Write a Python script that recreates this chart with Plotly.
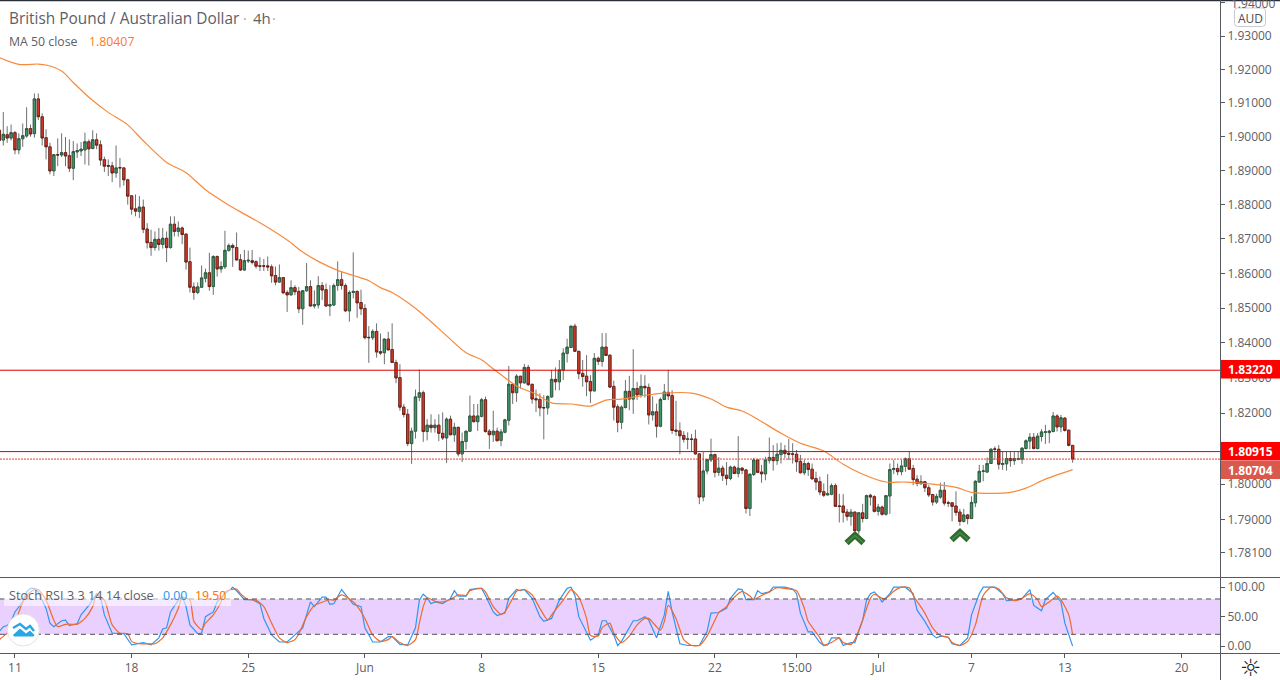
import math
import plotly.graph_objects as go

open_ = [1.9019,1.8990,1.9006,1.8996,1.9012,1.8961,1.8994,1.9002,1.9024,1.9009,
1.9112,1.9059,1.8997,1.8970,1.8899,1.8947,1.8946,1.8953,1.8944,1.8907,
1.8955,1.8958,1.8961,1.8985,1.8965,1.8991,1.8976,1.8932,1.8915,1.8914,
1.8893,1.8909,1.8908,1.8873,1.8826,1.8788,1.8780,1.8793,1.8729,1.8690,
1.8675,1.8699,1.8684,1.8702,1.8675,1.8743,1.8722,1.8732,1.8714,1.8634,
1.8561,1.8545,1.8560,1.8586,1.8602,1.8562,1.8649,1.8613,1.8619,1.8667,
1.8681,1.8675,1.8640,1.8610,1.8636,1.8637,1.8634,1.8622,1.8622,1.8622,
1.8619,1.8594,1.8575,1.8588,1.8545,1.8538,1.8559,1.8548,1.8498,1.8550,
1.8562,1.8506,1.8509,1.8565,1.8553,1.8506,1.8509,1.8565,1.8582,1.8565,
1.8492,1.8545,1.8548,1.8516,1.8499,1.8416,1.8415,1.8433,1.8375,1.8372,
1.8411,1.8381,1.8344,1.8301,1.8217,1.8197,1.8114,1.8149,1.8245,1.8258,
1.8148,1.8166,1.8159,1.8166,1.8143,1.8130,1.8183,1.8139,1.8160,1.8085,
1.8120,1.8149,1.8192,1.8176,1.8191,1.8238,1.8149,1.8139,1.8149,1.8123,
1.8146,1.8180,1.8282,1.8258,1.8305,1.8286,1.8330,1.8282,1.8241,1.8239,
1.8216,1.8215,1.8246,1.8296,1.8289,1.8322,1.8370,1.8387,1.8448,1.8376,
1.8313,1.8305,1.8290,1.8263,1.8356,1.8347,1.8388,1.8365,1.8276,1.8218,
1.8174,1.8216,1.8262,1.8240,1.8270,1.8252,1.8276,1.8273,1.8195,1.8204,
1.8163,1.8239,1.8259,1.8250,1.8152,1.8150,1.8137,1.8126,1.8127,1.8127,
1.8085,1.7964,1.8037,1.8068,1.8083,1.8033,1.8045,1.8025,1.8016,1.8048,
1.8030,1.8045,1.8040,1.7932,1.8027,1.8068,1.8034,1.8029,1.8067,1.8075,
1.8066,1.8083,1.8095,1.8087,1.8085,1.8084,1.8064,1.8032,1.8058,1.8042,
1.8016,1.8007,1.7979,1.7970,1.7972,1.7996,1.7939,1.7939,1.7922,1.7910,
1.7922,1.7870,1.7920,1.7904,1.7969,1.7965,1.7924,1.7936,1.7916,1.7967,
1.8041,1.8044,1.8035,1.8050,1.8071,1.8044,1.8014,1.8001,1.8007,1.7990,
1.7971,1.7950,1.7964,1.7983,1.7948,1.7948,1.7939,1.7922,1.7896,1.7914,
1.7904,1.7948,1.8006,1.8036,1.8034,1.8058,1.8099,1.8098,1.8055,1.8057,
1.8072,1.8066,1.8069,1.8070,1.8100,1.8121,1.8132,1.8100,1.8134,1.8146,
1.8145,1.8148,1.8192,1.8161,1.8186,1.8152,1.8109]
high = [1.9026,1.9073,1.9031,1.9036,1.9017,1.9010,1.9039,1.9087,1.9036,1.9128,
1.9128,1.9069,1.9022,1.8982,1.8948,1.8995,1.9010,1.8999,1.8992,1.8987,
1.8980,1.8984,1.9012,1.8992,1.9019,1.9010,1.8989,1.8941,1.8933,1.8926,
1.8974,1.8937,1.8908,1.8876,1.8826,1.8830,1.8825,1.8815,1.8746,1.8727,
1.8722,1.8732,1.8732,1.8722,1.8766,1.8766,1.8751,1.8736,1.8717,1.8675,
1.8574,1.8574,1.8623,1.8614,1.8660,1.8653,1.8652,1.8635,1.8724,1.8687,
1.8687,1.8719,1.8656,1.8668,1.8666,1.8668,1.8638,1.8647,1.8642,1.8649,
1.8626,1.8620,1.8626,1.8588,1.8551,1.8580,1.8566,1.8561,1.8551,1.8630,
1.8580,1.8551,1.8592,1.8575,1.8571,1.8566,1.8571,1.8635,1.8604,1.8571,
1.8551,1.8661,1.8551,1.8553,1.8511,1.8448,1.8439,1.8456,1.8427,1.8413,
1.8432,1.8456,1.8352,1.8339,1.8226,1.8212,1.8159,1.8267,1.8324,1.8264,
1.8183,1.8197,1.8183,1.8197,1.8202,1.8188,1.8193,1.8173,1.8161,1.8145,
1.8150,1.8250,1.8226,1.8226,1.8243,1.8247,1.8155,1.8207,1.8159,1.8155,
1.8184,1.8334,1.8283,1.8311,1.8305,1.8340,1.8337,1.8283,1.8267,1.8256,
1.8251,1.8251,1.8323,1.8330,1.8351,1.8385,1.8412,1.8449,1.8455,1.8376,
1.8351,1.8365,1.8308,1.8371,1.8361,1.8428,1.8428,1.8366,1.8292,1.8225,
1.8222,1.8294,1.8306,1.8382,1.8289,1.8310,1.8308,1.8284,1.8248,1.8227,
1.8244,1.8283,1.8323,1.8265,1.8235,1.8174,1.8149,1.8146,1.8141,1.8153,
1.8086,1.8090,1.8071,1.8128,1.8086,1.8076,1.8052,1.8062,1.8052,1.8052,
1.8135,1.8047,1.8042,1.8030,1.8074,1.8071,1.8054,1.8077,1.8131,1.8110,
1.8115,1.8117,1.8110,1.8127,1.8115,1.8096,1.8082,1.8068,1.8063,1.8058,
1.8035,1.8021,1.8002,1.8028,1.8002,1.8002,1.7973,1.7972,1.7931,1.7931,
1.7923,1.7921,1.7945,1.7971,1.7973,1.7969,1.7945,1.7940,1.7969,1.8058,
1.8068,1.8058,1.8068,1.8075,1.8091,1.8054,1.8025,1.8025,1.8009,1.7997,
1.7973,1.7973,1.8004,1.8006,1.7954,1.7950,1.7980,1.7931,1.7931,1.7917,
1.7966,1.8011,1.8054,1.8054,1.8075,1.8101,1.8106,1.8110,1.8091,1.8091,
1.8091,1.8090,1.8091,1.8104,1.8126,1.8144,1.8144,1.8144,1.8155,1.8167,
1.8153,1.8203,1.8197,1.8195,1.8189,1.8153,1.8110]
low = [1.8982,1.8974,1.8982,1.8989,1.8948,1.8948,1.8970,1.8997,1.9000,1.8997,
1.9049,1.8974,1.8933,1.8889,1.8884,1.8913,1.8940,1.8913,1.8896,1.8872,
1.8937,1.8943,1.8918,1.8915,1.8963,1.8963,1.8915,1.8896,1.8884,1.8866,
1.8879,1.8850,1.8856,1.8800,1.8771,1.8766,1.8761,1.8717,1.8672,1.8651,
1.8666,1.8666,1.8672,1.8633,1.8672,1.8707,1.8707,1.8685,1.8611,1.8545,
1.8524,1.8540,1.8560,1.8574,1.8550,1.8538,1.8591,1.8602,1.8613,1.8663,
1.8619,1.8638,1.8607,1.8607,1.8630,1.8626,1.8614,1.8607,1.8607,1.8607,
1.8573,1.8566,1.8573,1.8540,1.8489,1.8537,1.8537,1.8486,1.8452,1.8547,
1.8504,1.8499,1.8499,1.8523,1.8504,1.8477,1.8506,1.8550,1.8553,1.8489,
1.8461,1.8528,1.8472,1.8480,1.8410,1.8343,1.8408,1.8358,1.8365,1.8339,
1.8379,1.8343,1.8285,1.8207,1.8188,1.8107,1.8057,1.8128,1.8234,1.8119,
1.8123,1.8145,1.8145,1.8121,1.8124,1.8059,1.8137,1.8119,1.8078,1.8062,
1.8097,1.8147,1.8173,1.8150,1.8188,1.8145,1.8099,1.8119,1.8121,1.8107,
1.8143,1.8165,1.8226,1.8232,1.8270,1.8284,1.8277,1.8227,1.8203,1.8191,
1.8126,1.8196,1.8244,1.8265,1.8265,1.8294,1.8344,1.8385,1.8375,1.8296,
1.8275,1.8248,1.8229,1.8263,1.8337,1.8332,1.8363,1.8272,1.8179,1.8146,
1.8155,1.8213,1.8208,1.8198,1.8237,1.8244,1.8244,1.8168,1.8179,1.8131,
1.8160,1.8237,1.8237,1.8141,1.8136,1.8084,1.8117,1.8098,1.8090,1.8083,
1.7944,1.7952,1.8028,1.8062,1.8019,1.8023,1.8009,1.7997,1.8011,1.8028,
1.8019,1.8028,1.7918,1.7911,1.8023,1.8031,1.8004,1.8011,1.8058,1.8038,
1.8054,1.8058,1.8073,1.8068,1.8058,1.8035,1.8030,1.8025,1.8023,1.8013,
1.7983,1.7969,1.7964,1.7969,1.7969,1.7937,1.7893,1.7893,1.7898,1.7884,
1.7869,1.7860,1.7893,1.7903,1.7940,1.7921,1.7912,1.7912,1.7912,1.7917,
1.8028,1.8025,1.8025,1.8035,1.8041,1.7997,1.7994,1.8000,1.7978,1.7964,
1.7940,1.7945,1.7959,1.7940,1.7936,1.7896,1.7912,1.7884,1.7893,1.7888,
1.7903,1.7936,1.8004,1.8008,1.8032,1.8057,1.8068,1.8041,1.8040,1.8038,
1.8049,1.8054,1.8068,1.8057,1.8098,1.8098,1.8098,1.8098,1.8120,1.8113,
1.8115,1.8146,1.8148,1.8146,1.8148,1.8106,1.8060]
close = [1.8989,1.9007,1.8996,1.9012,1.8961,1.8994,1.9003,1.9024,1.9008,1.9112,
1.9059,1.8996,1.8970,1.8899,1.8947,1.8946,1.8953,1.8943,1.8907,1.8956,
1.8959,1.8963,1.8985,1.8964,1.8991,1.8975,1.8931,1.8913,1.8913,1.8893,
1.8908,1.8908,1.8873,1.8825,1.8787,1.8781,1.8793,1.8728,1.8689,1.8675,
1.8699,1.8684,1.8702,1.8675,1.8743,1.8722,1.8732,1.8713,1.8633,1.8560,
1.8545,1.8561,1.8587,1.8602,1.8562,1.8649,1.8613,1.8620,1.8667,1.8681,
1.8675,1.8639,1.8610,1.8637,1.8638,1.8632,1.8621,1.8621,1.8621,1.8619,
1.8593,1.8575,1.8588,1.8544,1.8538,1.8559,1.8547,1.8498,1.8550,1.8562,
1.8506,1.8510,1.8565,1.8552,1.8506,1.8510,1.8565,1.8582,1.8565,1.8492,
1.8545,1.8548,1.8515,1.8498,1.8415,1.8415,1.8433,1.8374,1.8371,1.8411,
1.8380,1.8344,1.8300,1.8217,1.8196,1.8114,1.8149,1.8246,1.8258,1.8148,
1.8166,1.8159,1.8166,1.8143,1.8130,1.8183,1.8139,1.8160,1.8085,1.8120,
1.8149,1.8192,1.8176,1.8192,1.8238,1.8148,1.8139,1.8149,1.8122,1.8147,
1.8181,1.8282,1.8258,1.8305,1.8286,1.8330,1.8281,1.8240,1.8238,1.8215,
1.8215,1.8247,1.8296,1.8289,1.8323,1.8371,1.8388,1.8448,1.8376,1.8312,
1.8304,1.8289,1.8263,1.8356,1.8347,1.8388,1.8364,1.8274,1.8217,1.8174,
1.8217,1.8262,1.8240,1.8270,1.8252,1.8276,1.8272,1.8195,1.8204,1.8163,
1.8239,1.8260,1.8249,1.8151,1.8149,1.8136,1.8126,1.8127,1.8126,1.8085,
1.7964,1.8037,1.8069,1.8083,1.8033,1.8045,1.8024,1.8016,1.8048,1.8030,
1.8045,1.8039,1.7932,1.8028,1.8068,1.8033,1.8029,1.8068,1.8075,1.8066,
1.8084,1.8095,1.8086,1.8084,1.8084,1.8063,1.8032,1.8058,1.8041,1.8015,
1.8006,1.7978,1.7969,1.7973,1.7996,1.7938,1.7938,1.7921,1.7910,1.7922,
1.7870,1.7920,1.7904,1.7968,1.7964,1.7924,1.7936,1.7916,1.7968,1.8041,
1.8044,1.8035,1.8051,1.8071,1.8042,1.8013,1.8002,1.8007,1.7990,1.7970,
1.7950,1.7966,1.7983,1.7947,1.7947,1.7938,1.7921,1.7896,1.7914,1.7904,
1.7949,1.8008,1.8036,1.8037,1.8058,1.8098,1.8098,1.8056,1.8058,1.8072,
1.8066,1.8072,1.8072,1.8101,1.8122,1.8132,1.8100,1.8135,1.8147,1.8147,
1.8149,1.8192,1.8161,1.8187,1.8151,1.8109,1.80704]

ma_idx = [0,5,10,12,16,19,23,28,33,37,43,48,53,58,62,67,74,78,82,87,91,95,98,101,105,108,113,120,124,127,129,133,138,142,147,152,156,160,165,171,178,183,187,191,195,201,206,212,217,222,228,233,240,246,250,255,260,264,269,276]
ma_val = [1.9235,1.9215,1.9216,1.9213,1.9195,1.9161,1.9117,1.9072,1.9035,1.8988,1.8924,1.8894,1.8844,1.8806,1.8779,1.8747,1.8697,1.8662,1.8635,1.8609,1.8594,1.8579,1.8559,1.8545,1.8516,1.8490,1.8441,1.8372,1.8352,1.8326,1.8309,1.8277,1.8254,1.8229,1.8226,1.8220,1.8237,1.8240,1.8249,1.8257,1.8257,1.8240,1.8217,1.8206,1.8183,1.8143,1.8115,1.8093,1.8056,1.8028,1.8006,1.8006,1.8000,1.7991,1.7977,1.7974,1.7977,1.7989,1.8014,1.80407]

k_idx = [0,1,2,3,4,6,7,8,9,10,12,13,14,16,17,18,20,21,23,25,26,27,29,31,32,34,36,37,39,41,42,43,44,46,47,48,49,51,52,53,55,56,58,60,61,63,65,67,68,70,72,74,76,78,80,81,83,84,85,86,88,90,91,93,94,96,98,100,101,103,105,107,108,
109,110,111,112,114,116,117,118,120,121,123,124,125,127,128,130,131,133,134,135,137,139,140,142,144,146,147,148,149,151,152,154,155,156,158,159,160,163,164,166,167,169,171,172,173,175,177,180,182,183,185,187,188,190,191,192,194,195,196,198,199,202,204,205,206,208,209,211,212,213,214,216,
217,219,220,222,223,224,225,226,227,229,230,233,235,236,238,240,241,242,244,245,247,249,250,252,253,256,258,259,261,263,265,266,268,269,271,273,274,276]
k_val = [25,33,35,42,58,75,92,98,98,92,64,39,33,43,44,35,38,53,69,89,83,53,22,22,21,2,5,6,2,14,29,31,58,78,85,67,36,21,22,50,58,75,89,100,94,79,79,72,47,19,7,7,19,31,75,67,83,83,71,72,96,78,71,67,31,7,7,16,16,3,2,31,78,
88,82,72,75,72,81,94,85,85,96,98,98,86,58,52,56,81,96,94,96,81,50,42,47,78,98,100,86,50,22,10,19,43,43,19,1,8,43,43,50,44,14,53,93,58,4,1,1,25,56,57,64,81,97,96,79,79,94,89,92,100,100,97,89,56,24,24,6,1,2,14,14,
1,6,6,44,78,89,92,85,75,89,100,100,89,61,42,19,14,17,15,4,1,14,53,89,100,100,89,77,78,81,96,69,60,79,91,75,39,0]
d_idx = [0,2,4,5,7,9,10,12,14,15,17,19,20,22,24,25,27,29,31,33,34,36,38,40,42,44,46,47,49,50,52,53,55,57,58,61,62,64,66,68,70,72,74,76,77,79,81,82,85,86,88,91,92,94,96,98,100,101,103,105,107,108,
109,110,112,114,116,118,120,121,124,125,127,129,130,132,133,135,137,139,141,142,145,147,149,151,152,154,155,157,158,160,162,164,166,167,170,171,172,174,176,178,180,182,184,185,187,189,191,193,194,196,198,200,202,205,207,208,211,212,214,216,
217,219,220,222,224,225,227,228,230,232,234,235,238,240,242,244,245,247,249,251,253,255,257,259,261,263,265,267,268,270,272,273,275,276]
d_val = [11,22,36,58,86,96,96,78,44,33,37,37,37,47,67,87,78,36,22,21,8,4,4,4,14,36,64,83,78,42,28,39,53,75,92,97,89,79,78,67,39,14,6,11,21,50,69,72,79,78,87,75,68,47,19,8,11,16,6,1,11,39,
67,82,76,75,79,87,86,94,98,92,67,54,58,81,93,96,87,64,44,53,78,96,83,47,18,17,31,39,22,6,17,36,47,47,27,42,69,47,11,1,1,17,44,57,67,83,93,85,79,86,92,99,98,94,64,42,14,2,6,14,
6,3,11,44,81,88,81,81,93,100,99,86,56,31,18,15,6,1,8,36,86,100,97,82,77,81,89,79,67,75,85,79,53,19.5]

level_prices = [1.83220, 1.80915, 1.80704]
y_tick_vals = [1.94,1.93,1.92,1.91,1.90,1.89,1.88,1.87,1.86,1.85,1.84,1.83,1.82,1.80,1.79,1.781]
y_tick_text = ["1.94000","1.93000","1.92000","1.91000","1.90000","1.89000","1.88000","1.87000","1.86000","1.85000","1.84000","1.83000","1.82000","1.80000","1.79000","1.78100"]
x_tick_vals = [4,34,64,94,124,154,184,205,226,250,274,304]
x_tick_text = ["11","18","25","Jun","8","15","22","15:00","Jul","7","13","20"]

assert len(open_) == len(high) == len(low) == len(close), (len(open_), len(high), len(low), len(close))
assert len(k_idx) == len(k_val), (len(k_idx), len(k_val))
assert len(d_idx) == len(d_val), (len(d_idx), len(d_val))

FONT = "Open Sans"
W, H, PW, PH = 1280, 680, 1220, 653
def X(p): return p / PW
def Y(p): return (PH - p) / PH

bars = list(range(len(close)))
x_range = [0.154, 313.9]
fig = go.Figure()

# wicks
fig.add_trace(go.Candlestick(x=bars, open=open_, high=high, low=low, close=close, yaxis="y", xaxis="x",
    increasing=dict(line=dict(color="#6f6f6f", width=1), fillcolor="rgba(0,0,0,0)"),
    decreasing=dict(line=dict(color="#6f6f6f", width=1), fillcolor="rgba(0,0,0,0)"),
    whiskerwidth=0, hoverinfo="skip", showlegend=False))
# bodies
body_top = [max(a, b) for a, b in zip(open_, close)]
body_bot = [min(a, b) for a, b in zip(open_, close)]
fig.add_trace(go.Candlestick(x=bars, open=open_, high=body_top, low=body_bot, close=close, yaxis="y", xaxis="x",
    increasing=dict(line=dict(color="#24573a", width=0.8), fillcolor="#42956a"),
    decreasing=dict(line=dict(color="#651a12", width=0.8), fillcolor="#d63c29"),
    whiskerwidth=0, hoverinfo="skip", showlegend=False))

fig.add_trace(go.Scatter(x=ma_idx, y=ma_val, mode="lines", line=dict(color="#f78a3c", width=1.2, shape="spline", smoothing=0.8), hoverinfo="skip", showlegend=False))
fig.add_trace(go.Scatter(x=x_range, y=[level_prices[0]]*2, mode="lines", line=dict(color="#e00000", width=1), hoverinfo="skip", showlegend=False))
fig.add_trace(go.Scatter(x=x_range, y=[level_prices[1]]*2, mode="lines", line=dict(color="#e00000", width=1), hoverinfo="skip", showlegend=False))
fig.add_trace(go.Scatter(x=x_range, y=[level_prices[2]]*2, mode="lines", line=dict(color="#e8402c", width=1, dash="2px,1px"), hoverinfo="skip", showlegend=False))

fig.add_trace(go.Scatter(x=k_idx, y=k_val, yaxis="y2", mode="lines", line=dict(color="#2f96f0", width=1.2), hoverinfo="skip", showlegend=False))
fig.add_trace(go.Scatter(x=d_idx, y=d_val, yaxis="y2", mode="lines", line=dict(color="#ef6a2c", width=1.2, shape="spline", smoothing=0.6), hoverinfo="skip", showlegend=False))

shapes = []
def rect(x0, y0, x1, y1, fill, layer="above", line=None):
    shapes.append(dict(type="rect", xref="paper", yref="paper", x0=X(x0), x1=X(x1), y0=Y(y0), y1=Y(y1),
                       fillcolor=fill, line=dict(width=0) if line is None else line, layer=layer))
def hline(x0, x1, y, color="#555a60", width=1):
    shapes.append(dict(type="line", xref="paper", yref="paper", x0=X(x0), x1=X(x1), y0=Y(y), y1=Y(y),
                       line=dict(color=color, width=width), layer="above"))
def path(pts, fill=None, color=None, width=0, close_it=False):
    d = "M" + " L".join(f"{X(a):.5f},{Y(b):.5f}" for a, b in pts) + (" Z" if close_it else "")
    shapes.append(dict(type="path", xref="paper", yref="paper", path=d, layer="above",
                       fillcolor=fill if fill else "rgba(0,0,0,0)",
                       line=dict(color=color if color else "rgba(0,0,0,0)", width=width)))

# stochastic band below the lines
shapes.append(dict(type="rect", xref="paper", yref="y2", x0=0, x1=1, y0=20, y1=80, fillcolor="#e9d0ff", line=dict(width=0), layer="below"))
for lv in (80, 20):
    shapes.append(dict(type="line", xref="paper", yref="y2", x0=0, x1=1, y0=lv, y1=lv, line=dict(color="#55505a", width=1, dash="5px,4px"), layer="above"))

# pane frame
hline(0, W, 0.5, "#2a2e39", 1.5)
hline(0, W, 577.5)
hline(0, W, 653.5)
shapes.append(dict(type="line", xref="paper", yref="paper", x0=X(1220.5), x1=X(1220.5), y0=Y(0), y1=Y(680), line=dict(color="#555a60", width=1), layer="above"))

# price tags
rect(1221, 360, 1280, 378.5, "#ff0000")
rect(1221, 442, 1280, 460.5, "#ff0000")
rect(1221, 461, 1280, 479, "#d9594c")
# AUD button
r = 3
ax0, ax1, ay0, ay1 = 1234.5, 1265.5, 8, 26.5
d = (f"M{X(ax0+r):.5f},{Y(ay0):.5f} L{X(ax1-r):.5f},{Y(ay0):.5f} Q{X(ax1):.5f},{Y(ay0):.5f} {X(ax1):.5f},{Y(ay0+r):.5f} "
     f"L{X(ax1):.5f},{Y(ay1-r):.5f} Q{X(ax1):.5f},{Y(ay1):.5f} {X(ax1-r):.5f},{Y(ay1):.5f} "
     f"L{X(ax0+r):.5f},{Y(ay1):.5f} Q{X(ax0):.5f},{Y(ay1):.5f} {X(ax0):.5f},{Y(ay1-r):.5f} "
     f"L{X(ax0):.5f},{Y(ay0+r):.5f} Q{X(ax0):.5f},{Y(ay0):.5f} {X(ax0+r):.5f},{Y(ay0):.5f} Z")
shapes.append(dict(type="path", xref="paper", yref="paper", path=d, fillcolor="#ffffff", line=dict(color="#c8cbd0", width=1), layer="above"))
# pattern chevrons
for cx, top in ((855, 535), (960, 532)):
    path([(cx-8.5, top+8), (cx, top), (cx+8.5, top+8)], color="#2f6a30", width=6)
    path([(cx-8, top+7.5), (cx, top+0.5), (cx+8, top+7.5)], color="#4c8a45", width=1.5)
# legend backing of the stochastic pane
rect(4, 587, 231, 606, "rgba(255,255,255,0.55)")
# logo
shapes.append(dict(type="circle", xref="paper", yref="paper", x0=X(7.3), x1=X(39.3), y0=Y(614), y1=Y(646),
                   fillcolor="#ffffff", line=dict(color="#e3e3e3", width=1), layer="above"))
path([(13, 628), (20, 624), (26, 629), (30, 626), (34, 631)], color="#2aa5e6", width=2.5)
path([(13, 635), (20, 628.5), (26, 633.5), (30, 630.5), (34.5, 635), (33.5, 636.5), (14, 636.5)], fill="#2aa5e6", close_it=True)

def note(px, py, text, size, color, bold=False, anchor="left", family=FONT):
    if bold:
        text = f"<b>{text}</b>"
    return dict(xref="paper", yref="paper", x=X(px), y=Y(py), text=text, showarrow=False, xanchor=anchor, yanchor="middle",
                font=dict(family=family, size=size, color=color), borderpad=0, borderwidth=0)

annotations = [
    note(9, 18, "British Pound / Australian Dollar", 15.4, "#5d6066"),
    note(243, 18, "·", 14, "#a0a3a8"),
    note(253, 18, "4h", 15, "#5d6066"),
    note(272, 18, "·", 14, "#a0a3a8"),
    note(9, 42, "MA 50 close", 12.3, "#5d6066"),
    note(89, 42, "1.80407", 12.3, "#ff7a1a"),
    note(9, 595, "Stoch RSI 3 3 14 14 close", 12.7, "#5d6066"),
    note(163, 595, "0.00", 12.3, "#2196f3"),
    note(195, 595, "19.50", 12.3, "#ff6d00"),
    note(1231, 3, "1.94000", 12, "#5d6066"),
    note(1250, 369.5, "1.83220", 12, "#ffffff", True, "center"),
    note(1250, 451.5, "1.80915", 12, "#ffffff", True, "center"),
    note(1250, 470, "1.80704", 12, "#ffffff", True, "center"),
    note(1250, 18, "AUD", 12, "#4a4d52", False, "center"),
    note(1250.5, 667.5, "☼", 24, "#222222", False, "center", "DejaVu Sans"),
]

fig.update_layout(
    width=W, height=H, autosize=False, margin=dict(l=0, r=60, t=0, b=27),
    paper_bgcolor="#ffffff", plot_bgcolor="#ffffff", showlegend=False, boxgap=0.15,
    font=dict(family=FONT, size=12, color="#5d6066"),
    xaxis=dict(domain=[0, 1], range=x_range, anchor="y2", rangeslider=dict(visible=False), showgrid=False, zeroline=False,
               tickmode="array", tickvals=x_tick_vals, ticktext=x_tick_text, ticks="outside", ticklen=4, tickcolor="#555a60",
               tickfont=dict(family=FONT, size=12, color="#5d6066"), showline=False),
    yaxis=dict(domain=[(PH-577)/PH, 1], type="log", range=[math.log10(1.77419), math.log10(1.94084)], side="right", anchor="x",
               showgrid=False, zeroline=False, tickmode="array", tickvals=y_tick_vals, ticktext=y_tick_text, ticks="outside", ticklen=4,
               tickcolor="#555a60", tickfont=dict(family=FONT, size=12, color="#5d6066"), showline=False),
    yaxis2=dict(domain=[0, (PH-578)/PH], range=[-11.7, 115.6], side="right", anchor="x",
                showgrid=False, zeroline=False, tickmode="array", tickvals=[0, 50, 100], ticktext=["0.00", "50.00", "100.00"], ticks="outside", ticklen=4,
                tickcolor="#555a60", tickfont=dict(family=FONT, size=12, color="#5d6066"), showline=False),
    shapes=shapes, annotations=annotations,
)
fig.write_html("out.html", config=dict(displayModeBar=False), post_script="document.body.style.margin='0';")
